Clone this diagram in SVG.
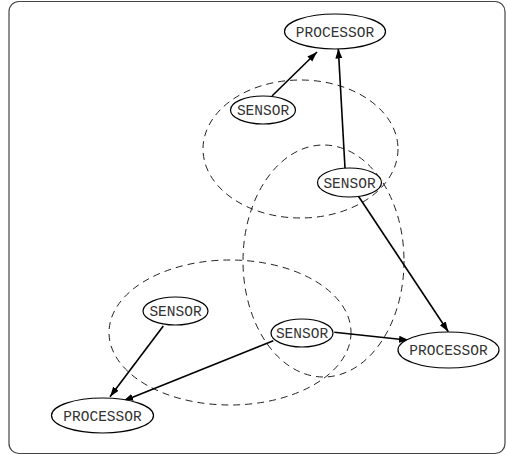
<svg xmlns="http://www.w3.org/2000/svg" width="507" height="455" viewBox="0 0 507 455">
<style>
.frame{fill:#fff;stroke:#444;stroke-width:1.2}
.node{fill:#fff;stroke:#000;stroke-width:1.2}
.region{fill:none;stroke:#222;stroke-width:1;stroke-dasharray:7,5}
.edge{fill:none;stroke:#000;stroke-width:1.6;marker-end:url(#arr)}
text{font-family:"Liberation Mono","DejaVu Sans Mono",monospace;font-size:14.5px;fill:#333;text-anchor:middle}
</style>
<defs>
<marker id="arr" markerUnits="userSpaceOnUse" markerWidth="11" markerHeight="8" refX="10" refY="3.5" orient="auto">
<path d="M0,0 L10,3.5 L0,7 z" fill="#000"/>
</marker>
</defs>
<rect class="frame" x="9" y="1.5" width="496" height="452" rx="10"/>
<g id="regions">
<ellipse class="region" cx="300.5" cy="149" rx="97.5" ry="69"/>
<ellipse class="region" cx="323.5" cy="261" rx="80.5" ry="116"/>
<ellipse class="region" cx="230" cy="332.5" rx="121" ry="72.5"/>
</g>
<g id="connectors">
<line class="edge" x1="272" y1="96" x2="317" y2="52"/>
<line class="edge" x1="345" y1="168" x2="338.3" y2="48.5"/>
<line class="edge" x1="358.3" y1="196" x2="448.3" y2="331.7"/>
<line class="edge" x1="334.3" y1="332.3" x2="409" y2="340.3"/>
<line class="edge" x1="273.3" y1="340.7" x2="123.3" y2="401"/>
<line class="edge" x1="163.3" y1="326" x2="110" y2="396.7"/>
</g>
<g id="proc-top">
<ellipse class="node" cx="335" cy="31.5" rx="50.5" ry="17.5"/>
<text x="335" y="36.5">PROCESSOR</text>
</g>
<g id="sensor-1">
<ellipse class="node" cx="263" cy="110" rx="32.5" ry="14"/>
<text x="263" y="115">SENSOR</text>
</g>
<g id="sensor-2">
<ellipse class="node" cx="349.5" cy="182.5" rx="32" ry="14.5"/>
<text x="349.5" y="187.5">SENSOR</text>
</g>
<g id="sensor-3">
<ellipse class="node" cx="175.5" cy="311" rx="32.5" ry="14"/>
<text x="175.5" y="316">SENSOR</text>
</g>
<g id="sensor-4">
<ellipse class="node" cx="302" cy="333" rx="31" ry="14"/>
<text x="302" y="338">SENSOR</text>
</g>
<g id="proc-right">
<ellipse class="node" cx="448.5" cy="350" rx="50.5" ry="18"/>
<text x="448.5" y="355">PROCESSOR</text>
</g>
<g id="proc-left">
<ellipse class="node" cx="102.5" cy="415.5" rx="51" ry="17.5"/>
<text x="102.5" y="420.5">PROCESSOR</text>
</g>
</svg>
